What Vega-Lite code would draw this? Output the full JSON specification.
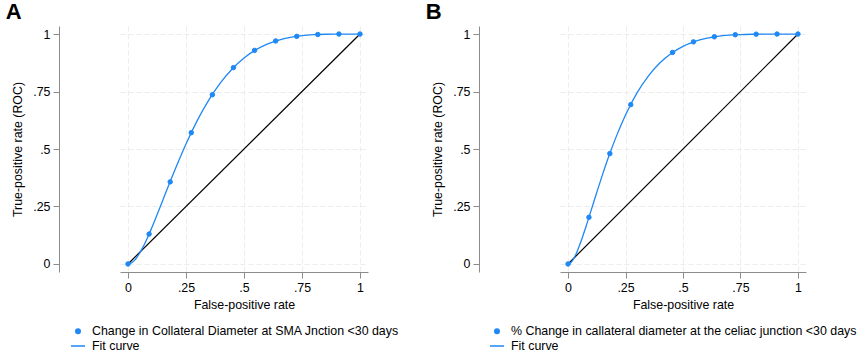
{
  "$schema": "https://vega.github.io/schema/vega-lite/v6.json",
  "padding": {"left": 5, "top": 1, "right": 0, "bottom": 0},
  "background": "white",
  "config": {
    "font": "Liberation Sans",
    "view": {"stroke": null},
    "axis": {
      "labelFontSize": 12.4,
      "titleFontSize": 12.4,
      "titleFontWeight": "normal",
      "labelColor": "#000000",
      "titleColor": "#000000",
      "domainColor": "#8c8c8c",
      "tickColor": "#8c8c8c",
      "tickSize": 6,
      "labelPadding": 3,
      "grid": true,
      "gridColor": "#ececec",
      "gridDash": [5, 3],
      "gridWidth": 1
    },
    "legend": {
      "labelFontSize": 12.4,
      "labelColor": "#000000",
      "labelLimit": 600,
      "padding": 0,
      "rowPadding": 0,
      "labelOffset": 6,
      "symbolStrokeWidth": 1.5
    },
    "concat": {"spacing": 26}
  },
  "datasets": {
    "diag": [{"x": 0, "y": 0}, {"x": 1, "y": 1}],
    "ptsA": [
      {"x": 0, "y": 0, "s": "Change in Collateral Diameter at SMA Jnction <30 days"},
      {"x": 0.0909, "y": 0.130, "s": "Change in Collateral Diameter at SMA Jnction <30 days"},
      {"x": 0.1818, "y": 0.357, "s": "Change in Collateral Diameter at SMA Jnction <30 days"},
      {"x": 0.2727, "y": 0.571, "s": "Change in Collateral Diameter at SMA Jnction <30 days"},
      {"x": 0.3636, "y": 0.736, "s": "Change in Collateral Diameter at SMA Jnction <30 days"},
      {"x": 0.4545, "y": 0.854, "s": "Change in Collateral Diameter at SMA Jnction <30 days"},
      {"x": 0.5455, "y": 0.929, "s": "Change in Collateral Diameter at SMA Jnction <30 days"},
      {"x": 0.6364, "y": 0.970, "s": "Change in Collateral Diameter at SMA Jnction <30 days"},
      {"x": 0.7273, "y": 0.990, "s": "Change in Collateral Diameter at SMA Jnction <30 days"},
      {"x": 0.8182, "y": 0.998, "s": "Change in Collateral Diameter at SMA Jnction <30 days"},
      {"x": 0.9091, "y": 1.0, "s": "Change in Collateral Diameter at SMA Jnction <30 days"},
      {"x": 1, "y": 1.0, "s": "Change in Collateral Diameter at SMA Jnction <30 days"}
    ],
    "fitA": [
      {"x": 0, "y": 0}, {"x": 0.005, "y": 0.0004}, {"x": 0.01, "y": 0.0019}, {"x": 0.02, "y": 0.008},
      {"x": 0.03, "y": 0.0179}, {"x": 0.04, "y": 0.0309}, {"x": 0.05, "y": 0.0467}, {"x": 0.06, "y": 0.0645},
      {"x": 0.08, "y": 0.1057}, {"x": 0.1, "y": 0.1515}, {"x": 0.12, "y": 0.2007}, {"x": 0.15, "y": 0.2773},
      {"x": 0.18, "y": 0.3538}, {"x": 0.21, "y": 0.4282}, {"x": 0.25, "y": 0.5219}, {"x": 0.3, "y": 0.6267},
      {"x": 0.35, "y": 0.716}, {"x": 0.4, "y": 0.7899}, {"x": 0.45, "y": 0.8492}, {"x": 0.5, "y": 0.8958},
      {"x": 0.55, "y": 0.931}, {"x": 0.6, "y": 0.9564}, {"x": 0.65, "y": 0.9741}, {"x": 0.7, "y": 0.9858},
      {"x": 0.75, "y": 0.9931}, {"x": 0.8, "y": 0.9971}, {"x": 0.85, "y": 0.9991}, {"x": 0.9, "y": 0.9998},
      {"x": 0.95, "y": 1.0}, {"x": 1, "y": 1.0}
    ],
    "ptsB": [
      {"x": 0, "y": 0, "s": "% Change in callateral diameter at the celiac junction <30 days"},
      {"x": 0.0909, "y": 0.203, "s": "% Change in callateral diameter at the celiac junction <30 days"},
      {"x": 0.1818, "y": 0.480, "s": "% Change in callateral diameter at the celiac junction <30 days"},
      {"x": 0.2727, "y": 0.693, "s": "% Change in callateral diameter at the celiac junction <30 days"},
      {"x": 0.4545, "y": 0.920, "s": "% Change in callateral diameter at the celiac junction <30 days"},
      {"x": 0.5455, "y": 0.966, "s": "% Change in callateral diameter at the celiac junction <30 days"},
      {"x": 0.6364, "y": 0.988, "s": "% Change in callateral diameter at the celiac junction <30 days"},
      {"x": 0.7273, "y": 0.997, "s": "% Change in callateral diameter at the celiac junction <30 days"},
      {"x": 0.8182, "y": 0.9995, "s": "% Change in callateral diameter at the celiac junction <30 days"},
      {"x": 0.9091, "y": 1.0, "s": "% Change in callateral diameter at the celiac junction <30 days"},
      {"x": 1, "y": 1.0, "s": "% Change in callateral diameter at the celiac junction <30 days"}
    ],
    "fitB": [
      {"x": 0, "y": 0}, {"x": 0.005, "y": 0.001}, {"x": 0.01, "y": 0.0041}, {"x": 0.02, "y": 0.0159},
      {"x": 0.03, "y": 0.0336}, {"x": 0.04, "y": 0.0557}, {"x": 0.05, "y": 0.0811}, {"x": 0.06, "y": 0.1088},
      {"x": 0.08, "y": 0.1688}, {"x": 0.1, "y": 0.2318}, {"x": 0.12, "y": 0.2956}, {"x": 0.15, "y": 0.3886},
      {"x": 0.18, "y": 0.4757}, {"x": 0.21, "y": 0.5549}, {"x": 0.25, "y": 0.648}, {"x": 0.3, "y": 0.7438},
      {"x": 0.35, "y": 0.8183}, {"x": 0.4, "y": 0.8751}, {"x": 0.45, "y": 0.9167}, {"x": 0.5, "y": 0.9467},
      {"x": 0.55, "y": 0.9675}, {"x": 0.6, "y": 0.9811}, {"x": 0.65, "y": 0.9898}, {"x": 0.7, "y": 0.995},
      {"x": 0.75, "y": 0.9978}, {"x": 0.8, "y": 0.9992}, {"x": 0.85, "y": 0.9998}, {"x": 0.9, "y": 1.0},
      {"x": 0.95, "y": 1.0}, {"x": 1, "y": 1.0}
    ]
  },
  "hconcat": [
    {
      "width": 248,
      "height": 246,
      "title": {"text": "A", "anchor": "start", "frame": "bounds", "fontSize": 22, "fontWeight": "bold", "color": "#000000", "offset": 2, "dx": -6},
      "encoding": {
        "x": {"field": "x", "type": "quantitative", "title": "False-positive rate",
              "scale": {"domain": [-0.0345, 1.0345], "nice": false, "zero": false},
              "axis": {"values": [0, 0.25, 0.5, 0.75, 1], "labelExpr": "replace(format(datum.value, '.2~f'), '0.', '.')", "titlePadding": 5}},
        "y": {"field": "y", "type": "quantitative", "title": "True-positive rate (ROC)",
              "scale": {"domain": [-0.035, 1.035], "nice": false, "zero": false},
              "axis": {"values": [0, 0.25, 0.5, 0.75, 1], "labelExpr": "replace(format(datum.value, '.2~f'), '0.', '.')", "offset": 61, "titlePadding": 8}}
      },
      "layer": [
        {"data": {"name": "diag"}, "mark": {"type": "line", "color": "#000000", "strokeWidth": 1.2}},
        {"data": {"name": "fitA"}, "mark": {"type": "line", "color": "#1e88f5", "strokeWidth": 1.3, "interpolate": "monotone"}},
        {"data": {"name": "ptsA"},
         "mark": {"type": "point", "filled": true, "color": "#1e88f5", "stroke": "#1e88f5", "strokeWidth": 1, "opacity": 1},
         "encoding": {
           "shape": {"field": "s", "type": "nominal",
                     "scale": {"domain": ["Change in Collateral Diameter at SMA Jnction <30 days", "Fit curve"], "range": ["circle", "stroke"]},
                     "legend": {"title": null, "orient": "none", "legendX": -50, "legendY": 299}},
           "size": {"field": "s", "type": "nominal",
                    "scale": {"type": "ordinal", "domain": ["Change in Collateral Diameter at SMA Jnction <30 days", "Fit curve"], "range": [20, 196]},
                    "legend": {"title": null, "orient": "none", "legendX": -50, "legendY": 299}}
         }}
      ]
    },
    {
      "width": 246,
      "height": 246,
      "title": {"text": "B", "anchor": "start", "frame": "bounds", "fontSize": 22, "fontWeight": "bold", "color": "#000000", "offset": 2, "dx": -6},
      "encoding": {
        "x": {"field": "x", "type": "quantitative", "title": "False-positive rate",
              "scale": {"domain": [-0.035, 1.035], "nice": false, "zero": false},
              "axis": {"values": [0, 0.25, 0.5, 0.75, 1], "labelExpr": "replace(format(datum.value, '.2~f'), '0.', '.')", "titlePadding": 5}},
        "y": {"field": "y", "type": "quantitative", "title": "True-positive rate (ROC)",
              "scale": {"domain": [-0.035, 1.035], "nice": false, "zero": false},
              "axis": {"values": [0, 0.25, 0.5, 0.75, 1], "labelExpr": "replace(format(datum.value, '.2~f'), '0.', '.')", "offset": 81, "titlePadding": 8}}
      },
      "layer": [
        {"data": {"name": "diag"}, "mark": {"type": "line", "color": "#000000", "strokeWidth": 1.2}},
        {"data": {"name": "fitB"}, "mark": {"type": "line", "color": "#1e88f5", "strokeWidth": 1.3, "interpolate": "monotone"}},
        {"data": {"name": "ptsB"},
         "mark": {"type": "point", "filled": true, "color": "#1e88f5", "stroke": "#1e88f5", "strokeWidth": 1, "opacity": 1},
         "encoding": {
           "shape": {"field": "s", "type": "nominal",
                     "scale": {"domain": ["% Change in callateral diameter at the celiac junction <30 days", "Fit curve"], "range": ["circle", "stroke"]},
                     "legend": {"title": null, "orient": "none", "legendX": -71, "legendY": 299}},
           "size": {"field": "s", "type": "nominal",
                    "scale": {"type": "ordinal", "domain": ["% Change in callateral diameter at the celiac junction <30 days", "Fit curve"], "range": [20, 196]},
                    "legend": {"title": null, "orient": "none", "legendX": -71, "legendY": 299}}
         }}
      ]
    }
  ],
  "resolve": {"scale": {"shape": "independent", "size": "independent"}, "legend": {"shape": "independent", "size": "independent"}}
}
